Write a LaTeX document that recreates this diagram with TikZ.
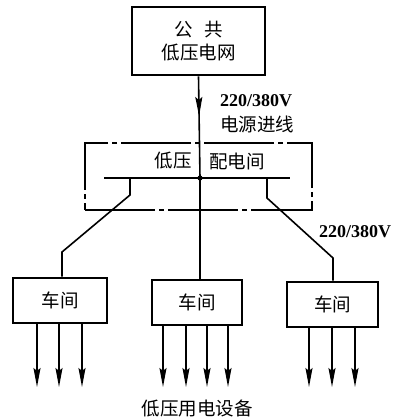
\documentclass[tikz,border=0pt]{standalone}
\usepackage{fontspec}
\setmainfont{Liberation Serif}
\newfontfamily\cjk{Noto Sans CJK SC}
\usetikzlibrary{arrows.meta,decorations.markings}
\begin{document}
\begin{tikzpicture}[x=1pt,y=-1pt,
  box/.style={draw,line width=2.8pt,inner sep=0pt,align=center,font=\cjk\fontsize{18.5}{23}\selectfont},
  wire/.style={line width=1.6pt},
  outarrow/.style={wire,-{Stealth[length=19pt,width=7pt,inset=3pt]}},
  lab/.style={inner sep=0pt,font=\cjk\fontsize{18.5}{22}\selectfont},
  volt/.style={inner sep=0pt,font=\bfseries\fontsize{18}{20}\selectfont},
  midarrow/.style={wire,decoration={markings,mark=at position 0.39 with {\arrow{Stealth[length=19pt,width=7pt,inset=3pt]}}},postaction={decorate}},
  dashbox/.style={draw,line width=1.4pt,dash pattern=on 70pt off 4pt on 5pt off 4pt,inner sep=0pt},
]
\useasboundingbox[fill=white] (0,0) rectangle (404,420);

% source
\node[box,minimum width=133pt,minimum height=68pt] (grid) at (198.5,41) {公\hspace{0.6em}共\\低压电网};

% distribution room (dashed)
\node[dashbox,minimum width=227pt,minimum height=67pt] (room) at (198.5,176.5) {};
\node[lab,anchor=east] (roomL) at (192,161) {低压};
\node[lab,anchor=west] (roomR) at (209,161) {配电间};

% labels
\node[volt,anchor=west] (v1) at (220,101) {220/380V};
\node[lab,anchor=west] (feed) at (220,124) {电源进线};
\node[volt,anchor=west] (v2) at (319,232) {220/380V};

% busbar
\coordinate (junc) at (200,178);
\coordinate (busL) at (104,178);
\coordinate (busR) at (290,178);
\draw[wire] (busL) -- (busR);
\fill (junc) circle (2.6pt);
\draw[midarrow] (grid.south) -- (junc);

% workshops
\node[box,minimum width=94pt,minimum height=45pt] (w1) at (60,300.5) {车间};
\node[box,minimum width=90pt,minimum height=45pt] (w2) at (197,302.5) {车间};
\node[box,minimum width=91pt,minimum height=45pt] (w3) at (332.5,304.5) {车间};

% feeders
\coordinate (f1a) at (130,178);
\coordinate (f1b) at (130,195);
\coordinate (f1c) at (62,252);
\draw[wire] (f1a) -- (f1b) -- (f1c) -- (f1c |- w1.north);
\draw[wire] (junc) -- (junc |- w2.north);
\coordinate (f3a) at (267,178);
\coordinate (f3b) at (267,198);
\coordinate (f3c) at (333,258);
\draw[wire] (f3a) -- (f3b) -- (f3c) -- (f3c |- w3.north);

% outgoing loads
\foreach \x [count=\i] in {37,59,82} {
  \coordinate (a1\i) at (\x,387);
  \draw[outarrow] (a1\i |- w1.south) -- (a1\i);
}
\foreach \x [count=\i] in {163,186,207,228} {
  \coordinate (a2\i) at (\x,387);
  \draw[outarrow] (a2\i |- w2.south) -- (a2\i);
}
\foreach \x [count=\i] in {309,332,355} {
  \coordinate (a3\i) at (\x,387);
  \draw[outarrow] (a3\i |- w3.south) -- (a3\i);
}

\node[lab] (loads) at (197,408) {低压用电设备};
\end{tikzpicture}
\end{document}
